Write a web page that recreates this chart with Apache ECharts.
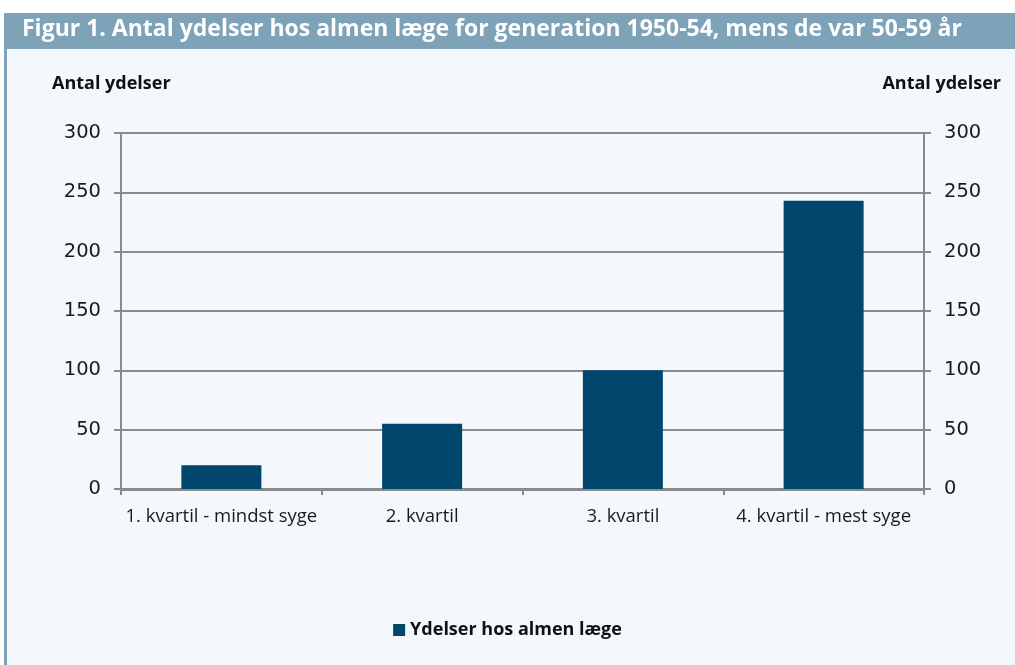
<!DOCTYPE html>
<html lang="en">
<head>
<meta charset="UTF-8">
<title>Figur 1</title>
<style>
  html, body { margin: 0; padding: 0; background: #fff; }
  #main { width: 1015px; height: 665px; }
</style>
</head>
<body>
<div id="main"></div>
<script src="https://cdn.jsdelivr.net/npm/echarts@6/dist/echarts.min.js"></script>
<script>
// data
var kategorier = ['1. kvartil - mindst syge', '2. kvartil', '3. kvartil', '4. kvartil - mest syge'];
var ydelser = [20, 55, 100, 243];
var serieNavn = 'Ydelser hos almen læge';
var akseNavn = 'Antal ydelser';

var FONT = '"Open Sans", sans-serif';
var TAL = '"DejaVu Sans", sans-serif';
var myChart = echarts.init(document.getElementById('main'));

var yAkse = function (pos) {
  return {
    type: 'value',
    position: pos,
    min: 0, max: 300, interval: 50,
    axisLine: { show: true, lineStyle: { color: '#8a8a8a', width: 2 } },
    axisTick: { show: true, length: 7, lineStyle: { color: '#8a8a8a', width: 2 } },
    splitLine: { show: pos === 'left', lineStyle: { color: '#8c8c8c', width: 2 } },
    axisLabel: { color: '#1a1a1a', fontSize: 19.5, fontFamily: TAL, margin: 20 }
  };
};

var option = {
  animation: false,
  backgroundColor: '#fff',
  graphic: [
    { type: 'rect', shape: { x: 4, y: 13, width: 1011, height: 652 }, style: { fill: '#f4f8fc' }, z: -10 },
    { type: 'rect', shape: { x: 4, y: 13, width: 1011, height: 36 }, style: { fill: '#7ea2b8' }, z: -9 },
    { type: 'rect', shape: { x: 4, y: 13, width: 3, height: 652 }, style: { fill: '#7ea2b8' }, z: -9 },
    { type: 'text', left: 52, top: 75, style: { text: akseNavn, fill: '#111', font: 'bold 18px ' + FONT } },
    { type: 'text', right: 14, top: 75, style: { text: akseNavn, fill: '#111', font: 'bold 18px ' + FONT } }
  ],
  title: {
    text: 'Figur 1. Antal ydelser hos almen læge for generation 1950-54, mens de var 50-59 år',
    left: 17, top: 13,
    textStyle: { color: '#fff', fontSize: 23, fontWeight: 'bold', fontFamily: FONT }
  },
  legend: {
    data: [serieNavn],
    top: 616, left: 'center',
    icon: 'rect', itemWidth: 12, itemHeight: 12, itemGap: 4,
    textStyle: { color: '#111', fontSize: 18, fontWeight: 'bold', fontFamily: FONT }
  },
  grid: { left: 121, right: 91, top: 133, bottom: 176 },
  xAxis: {
    type: 'category',
    data: kategorier,
    axisLine: { lineStyle: { color: '#8a8a8a', width: 3 } },
    axisTick: { show: true, length: 6, lineStyle: { color: '#8a8a8a', width: 2 } },
    axisLabel: { color: '#1a1a1a', fontSize: 18.5, fontFamily: FONT, margin: 18, interval: 0 }
  },
  yAxis: [yAkse('left'), yAkse('right')],
  series: [{
    name: serieNavn,
    type: 'bar',
    data: ydelser,
    barWidth: 80,
    itemStyle: { color: '#01466d' }
  }]
};
myChart.setOption(option);
</script>
</body>
</html>
